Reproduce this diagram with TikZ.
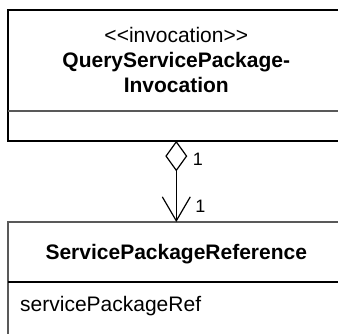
\documentclass[tikz,border=0pt]{standalone}
\usepackage{fontspec}
\setmainfont{Liberation Sans}
\usetikzlibrary{shapes.geometric,arrows.meta}
\tikzset{
  classline/.style={draw=black, line width=1.6pt},
  divline/.style={draw=black!65, line width=1.8pt},
  titletext/.style={font=\fontsize{21}{25}\selectfont\bfseries, anchor=base, inner sep=0pt},
  stereotext/.style={font=\fontsize{21}{25}\selectfont, anchor=base, inner sep=0pt},
  attrtext/.style={font=\fontsize{21}{25}\selectfont, anchor=base west, inner sep=0pt},
  multtext/.style={font=\fontsize{18}{20}\selectfont, anchor=base, inner sep=0pt},
  aggdiamond/.style={diamond, draw=black, line width=1.2pt, minimum width=21pt, minimum height=29pt, inner sep=0pt, fill=white},
  assoc/.style={draw=black, line width=1pt, -{Straight Barb[length=24pt, width=28pt, line width=1.2pt]}}
}
\begin{document}
\begin{tikzpicture}[x=1pt, y=-1pt]
\useasboundingbox (0,0) rectangle (338,333);
\clip (0,0) rectangle (338,333);
\fill[white] (0,0) rectangle (338,333);
% top class
\draw[classline] (360,10) -- (8,10) -- (8,141) -- (360,141);
\draw[divline] (8,111) -- (360,111);
\node[stereotext] (stereo) at (176.3,42) {<\kern0pt<invocation>\kern0pt>};
\node[titletext] (qname1) at (176.3,67) {QueryServicePackage-};
\node[titletext] (qname2) at (176.3,92) {Invocation};
% bottom class
\draw[divline] (360,222) -- (8,222) -- (8,345);
\draw[classline] (8,282) -- (360,282);
\node[titletext] (rname) at (176.3,259) {ServicePackageReference};
\node[attrtext] (rattr) at (20,311.5) {servicePackageRef};
% association
\node[aggdiamond, anchor=north] (dia) at (176.3,141) {};
\coordinate (reftop) at (176.3,222);
\draw[assoc] (dia.south) -- (reftop);
\node[multtext] (m1) at (198,165) {1};
\node[multtext] (m2) at (200.5,212) {1};
\end{tikzpicture}
\end{document}
